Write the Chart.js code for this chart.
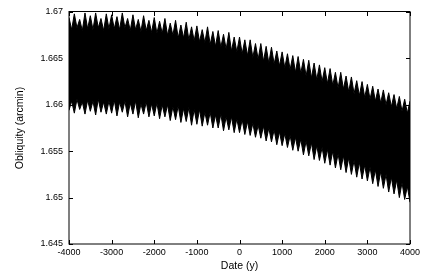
<!DOCTYPE html>
<html>
<head>
<meta charset="utf-8">
<script src="https://cdn.jsdelivr.net/npm/chart.js@4.4.0/dist/chart.umd.min.js"></script>
<style>
    html, body { margin: 0; padding: 0; background: #fff; }
    #wrap { width: 425px; height: 273px; }
</style>
</head>
<body>
<div id="wrap"><canvas id="obliquityChart" width="425" height="273"></canvas></div>
<script>
// years of the spike tips, and of the notches half way between them
const tipYears = [-4000, -3875, -3750, -3625, -3500, -3375, -3250, -3125, -3000, -2875, -2750, -2625, -2500,
    -2375, -2250, -2125, -2000, -1875, -1750, -1625, -1500, -1375, -1250, -1125, -1000, -875, -750, -625,
    -500, -375, -250, -125, 0, 125, 250, 375, 500, 625, 750, 875, 1000, 1125, 1250, 1375, 1500, 1625, 1750,
    1875, 2000, 2125, 2250, 2375, 2500, 2625, 2750, 2875, 3000, 3125, 3250, 3375, 3500, 3625, 3750, 3875, 4000];
const notchYears = [-3938, -3813, -3688, -3563, -3438, -3313, -3188, -3063, -2938, -2813, -2688, -2563,
    -2438, -2313, -2188, -2063, -1938, -1813, -1688, -1563, -1438, -1313, -1188, -1063, -938, -813, -688,
    -563, -438, -313, -188, -63, 63, 188, 313, 438, 563, 688, 813, 938, 1063, 1188, 1313, 1438, 1563, 1688,
    1813, 1938, 2063, 2188, 2313, 2438, 2563, 2688, 2813, 2938, 3063, 3188, 3313, 3438, 3563, 3688, 3813, 3938];

// upper edge of the band (arcmin): spike tops and notches
const upperTips = [1.6694, 1.6698, 1.6692, 1.6699, 1.6696, 1.6699, 1.6693, 1.6698, 1.6697,
    1.6695, 1.6699, 1.6693, 1.6697, 1.6692, 1.6696, 1.6691, 1.6694,
    1.6690, 1.6693, 1.6688, 1.6691, 1.6686, 1.6689, 1.6684, 1.6685,
    1.6681, 1.6684, 1.6679, 1.6680, 1.6676, 1.6678, 1.6673, 1.6673,
    1.6670, 1.6670, 1.6666, 1.6666, 1.6663, 1.6662, 1.6658, 1.6657,
    1.6655, 1.6653, 1.6652, 1.6649, 1.6648, 1.6645, 1.6643, 1.6640,
    1.6639, 1.6635, 1.6635, 1.6631, 1.6630, 1.6626, 1.6625, 1.6622,
    1.6620, 1.6617, 1.6616, 1.6613, 1.6611, 1.6609, 1.6606, 1.6604];
const upperNotches = [1.6681, 1.6683, 1.6680, 1.6682, 1.6681, 1.6683, 1.6680, 1.6682,
    1.6682, 1.6681, 1.6683, 1.6680, 1.6681, 1.6679, 1.6680, 1.6678,
    1.6677, 1.6677, 1.6675, 1.6675, 1.6672, 1.6672, 1.6670, 1.6669,
    1.6668, 1.6667, 1.6665, 1.6663, 1.6662, 1.6660, 1.6658, 1.6657,
    1.6655, 1.6653, 1.6651, 1.6649, 1.6647, 1.6645, 1.6644, 1.6642,
    1.6640, 1.6638, 1.6635, 1.6634, 1.6631, 1.6629, 1.6627, 1.6625,
    1.6623, 1.6621, 1.6618, 1.6617, 1.6614, 1.6612, 1.6610, 1.6608,
    1.6606, 1.6604, 1.6602, 1.6600, 1.6598, 1.6596, 1.6593, 1.6591];

// lower edge of the band (arcmin): spike bottoms and notches
const lowerTips = [1.6594, 1.6591, 1.6595, 1.6590, 1.6593, 1.6589, 1.6592, 1.6590, 1.6591,
    1.6588, 1.6592, 1.6587, 1.6590, 1.6586, 1.6590, 1.6587, 1.6588,
    1.6585, 1.6587, 1.6583, 1.6584, 1.6581, 1.6582, 1.6578, 1.6579,
    1.6577, 1.6578, 1.6575, 1.6575, 1.6572, 1.6573, 1.6570, 1.6570,
    1.6568, 1.6567, 1.6565, 1.6564, 1.6561, 1.6560, 1.6557, 1.6556,
    1.6554, 1.6551, 1.6550, 1.6546, 1.6545, 1.6541, 1.6540, 1.6537,
    1.6535, 1.6532, 1.6530, 1.6527, 1.6525, 1.6522, 1.6520, 1.6518,
    1.6515, 1.6512, 1.6510, 1.6506, 1.6504, 1.6500, 1.6498, 1.6495];
const lowerNotches = [1.6604, 1.6606, 1.6603, 1.6605, 1.6604, 1.6606, 1.6603, 1.6604,
    1.6605, 1.6603, 1.6604, 1.6602, 1.6604, 1.6601, 1.6603, 1.6601,
    1.6602, 1.6600, 1.6600, 1.6598, 1.6599, 1.6596, 1.6597, 1.6595,
    1.6595, 1.6592, 1.6592, 1.6589, 1.6590, 1.6587, 1.6587, 1.6585,
    1.6584, 1.6582, 1.6580, 1.6578, 1.6577, 1.6575, 1.6573, 1.6571,
    1.6569, 1.6567, 1.6565, 1.6563, 1.6561, 1.6559, 1.6556, 1.6554,
    1.6552, 1.6550, 1.6547, 1.6545, 1.6543, 1.6540, 1.6538, 1.6535,
    1.6533, 1.6530, 1.6528, 1.6525, 1.6522, 1.6519, 1.6516, 1.6512];

const xTicks = [-4000, -3000, -2000, -1000, 0, 1000, 2000, 3000, 4000];
const xTickLabels = ['-4000', '-3000', '-2000', '-1000', '0', '1000', '2000', '3000', '4000'];
const yTicks = [1.645, 1.65, 1.655, 1.66, 1.665, 1.67];
const yTickLabels = ['1.645', '1.65', '1.655', '1.66', '1.665', '1.67'];

const FONT = "'Liberation Sans', Arial, Helvetica, sans-serif";

// tip, notch, tip, notch ... along the edge
function buildEdge(tips, notches) {
    const pts = [];
    tipYears.forEach((yr, i) => {
        pts.push({ x: yr, y: tips[i] });
        if (i < notchYears.length) pts.push({ x: notchYears[i], y: notches[i] });
    });
    return pts;
}

// gnuplot style box with inward ticks on all four sides
const frameTicks = {
    id: 'frameTicks',
    afterDraw(chart) {
        const { ctx, chartArea: a, scales: { x, y } } = chart;
        const len = 4;
        ctx.save();
        ctx.strokeStyle = '#000';
        ctx.lineWidth = 1;
        ctx.beginPath();
        x.ticks.forEach(t => {
            const px = Math.round(x.getPixelForValue(t.value)) + 0.5;
            ctx.moveTo(px, a.bottom); ctx.lineTo(px, a.bottom - len);
            ctx.moveTo(px, a.top); ctx.lineTo(px, a.top + len);
        });
        y.ticks.forEach(t => {
            const py = Math.round(y.getPixelForValue(t.value)) + 0.5;
            ctx.moveTo(a.left, py); ctx.lineTo(a.left + len, py);
            ctx.moveTo(a.right, py); ctx.lineTo(a.right - len, py);
        });
        ctx.stroke();
        ctx.strokeRect(a.left, a.top - 0.5, a.right - a.left, a.bottom - a.top + 0.5);
        ctx.restore();
    }
};

Chart.defaults.font.family = FONT;
Chart.defaults.color = '#000';

new Chart(document.getElementById('obliquityChart').getContext('2d'), {
    type: 'line',
    data: {
        datasets: [{
            label: 'upper',
            data: buildEdge(upperTips, upperNotches),
            borderColor: '#000',
            backgroundColor: '#000',
            borderWidth: 1,
            pointRadius: 0,
            tension: 0,
            fill: '+1'
        }, {
            label: 'lower',
            data: buildEdge(lowerTips, lowerNotches),
            borderColor: '#000',
            borderWidth: 1,
            pointRadius: 0,
            tension: 0,
            fill: false
        }]
    },
    plugins: [frameTicks],
    options: {
        responsive: false,
        animation: false,
        events: [],
        layout: { padding: { top: 12, right: 15, left: 0, bottom: 0 } },
        plugins: {
            legend: { display: false },
            tooltip: { enabled: false }
        },
        scales: {
            x: {
                type: 'linear',
                min: -4000,
                max: 4000,
                afterBuildTicks: s => { s.ticks = xTicks.map(v => ({ value: v })); },
                afterFit: s => { s.height = 29; },
                grid: { display: false, drawTicks: false },
                border: { display: false },
                ticks: {
                    autoSkip: false,
                    maxRotation: 0,
                    padding: 3,
                    font: { size: 9 },
                    callback: (v, i) => xTickLabels[i]
                },
                title: {
                    display: true,
                    text: 'Date (y)',
                    font: { size: 10.5 },
                    padding: { top: 0, bottom: 1 }
                }
            },
            y: {
                min: 1.645,
                max: 1.67,
                afterBuildTicks: s => { s.ticks = yTicks.map(v => ({ value: v })); },
                afterFit: s => { s.width = 69; },
                grid: { display: false, drawTicks: false },
                border: { display: false },
                ticks: {
                    autoSkip: false,
                    padding: 6,
                    font: { size: 9 },
                    callback: (v, i) => yTickLabels[i]
                },
                title: {
                    display: true,
                    text: 'Obliquity (arcmin)',
                    font: { size: 10.5 },
                    padding: { top: 14, bottom: 0 }
                }
            }
        }
    }
});
</script>
</body>
</html>
